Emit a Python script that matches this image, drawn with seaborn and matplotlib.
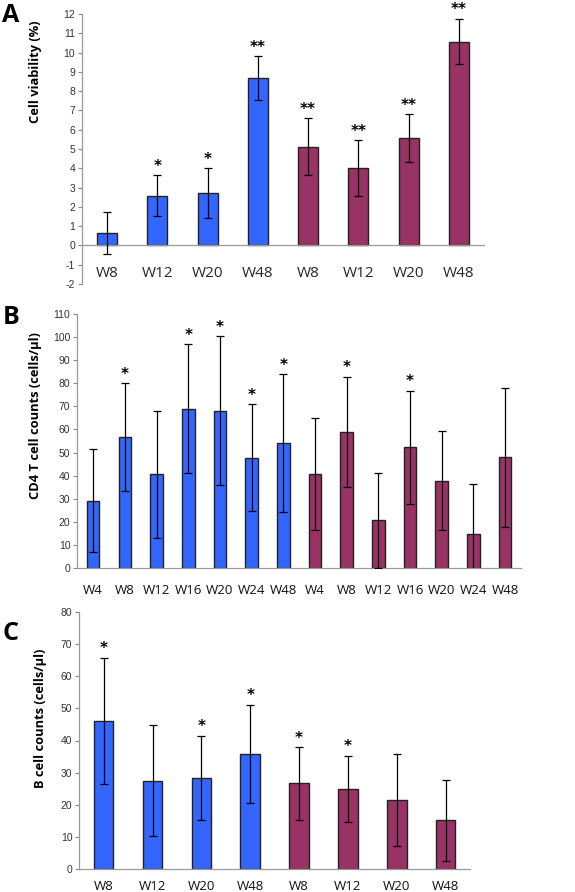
import matplotlib
matplotlib.use("Agg")
import matplotlib.pyplot as plt
import numpy as np
import pandas as pd
import seaborn as sns

# --- data ---
groups_a = ["blue"] * 4 + ["purple"] * 4
weeks_a = ["W8", "W12", "W20", "W48", "W8", "W12", "W20", "W48"]
viab_mean = [0.65, 2.58, 2.71, 8.68, 5.12, 4.01, 5.55, 10.57]
viab_err = [1.1, 1.07, 1.3, 1.13, 1.47, 1.45, 1.24, 1.18]
viab_star = ["", "*", "*", "**", "**", "**", "**", "**"]

groups_b = ["blue"] * 7 + ["purple"] * 7
weeks_b = ["W4", "W8", "W12", "W16", "W20", "W24", "W48",
           "W4", "W8", "W12", "W16", "W20", "W24", "W48"]
cd4_mean = [29.0, 56.7, 40.5, 69.0, 68.2, 47.8, 54.1,
            40.5, 58.9, 20.5, 52.2, 37.8, 14.6, 47.9]
cd4_err = [22.4, 23.5, 27.4, 28.0, 32.3, 23.1, 30.0,
           24.3, 24.0, 20.6, 24.6, 21.4, 21.9, 30.2]
cd4_star = ["", "*", "", "*", "*", "*", "*",
            "", "*", "", "*", "", "", ""]

groups_c = ["blue"] * 4 + ["purple"] * 4
weeks_c = ["W8", "W12", "W20", "W48", "W8", "W12", "W20", "W48"]
bcell_mean = [46.1, 27.5, 28.4, 35.9, 26.6, 24.9, 21.5, 15.1]
bcell_err = [19.7, 17.2, 13.1, 15.3, 11.3, 10.3, 14.4, 12.6]
bcell_star = ["*", "", "*", "*", "*", "*", "", ""]

palette = {"blue": "#3366FF", "purple": "#993366"}

sns.set_theme(style="white")
plt.rcParams["font.family"] = ["Open Sans", "DejaVu Sans"]
plt.rcParams["text.color"] = "black"

fig = plt.figure(figsize=(5.75, 8.92), dpi=100)

W, H = 575.0, 892.0


def make_ax(left, right, top, bottom):
    return fig.add_axes([left / W, 1 - bottom / H, (right - left) / W, (bottom - top) / H])


def panel(ax, weeks, groups, mean, err, stars, ylim, yticks, ylabel, label_xy, xpad, zero_spine=False):
    keys = [f"{w}_{i}" for i, w in enumerate(weeks)]
    df = pd.DataFrame({"key": keys, "value": mean, "group": groups})
    sns.barplot(data=df, x="key", y="value", hue="group", order=keys,
                palette=palette, dodge=False, width=0.4, saturation=1,
                edgecolor="#222222", linewidth=1.0, legend=False, ax=ax)
    pos = np.arange(len(keys))
    ax.errorbar(pos, mean, yerr=err, fmt="none", ecolor="black",
                elinewidth=0.9, capsize=3, capthick=0.9, zorder=5)
    for x, m, e, s in zip(pos, mean, err, stars):
        if s:
            ax.annotate(s, (x, m + e), xytext=(0, 1), textcoords="offset points",
                        ha="center", va="bottom", fontsize=11, fontweight="bold",
                        family=["DejaVu Sans"], color="black")
    ax.set_xlim(-0.5, len(keys) - 0.5)
    ax.set_ylim(*ylim)
    ax.set_yticks(yticks)
    ax.set_yticklabels([str(t) for t in yticks], family=["Liberation Sans"], fontsize=7.5, color="#333333")
    ax.set_xticks(pos)
    ax.set_xticklabels(weeks, fontsize=9.5, color="#111111")
    ax.tick_params(axis="x", length=0, pad=xpad)
    ax.tick_params(axis="y", length=3, width=0.8, color="#888888", pad=2, left=True)
    for sp in ["top", "right"]:
        ax.spines[sp].set_visible(False)
    ax.spines["left"].set_color("#999999")
    ax.spines["bottom"].set_color("#999999")
    ax.spines["left"].set_linewidth(0.9)
    ax.spines["bottom"].set_linewidth(0.9)
    if zero_spine:
        ax.spines["bottom"].set_position(("data", 0))
    ax.set_xlabel("")
    ax.set_ylabel(ylabel, fontsize=9.3, fontweight="bold", color="black")
    ax.yaxis.set_label_coords(*label_xy)


ax_a = make_ax(82, 484, 14, 284)
panel(ax_a, weeks_a, groups_a, viab_mean, viab_err, viab_star,
      (-2, 12), list(range(-2, 13)), "Cell viability (%)", (-0.1, 0.785), 15, zero_spine=True)

ax_b = make_ax(77.3, 521, 314.3, 567.7)
panel(ax_b, weeks_b, groups_b, cd4_mean, cd4_err, cd4_star,
      (0, 110), list(range(0, 111, 10)), "CD4 T cell counts (cells/\u00b5l)", (-0.08, 0.6), 12)

ax_c = make_ax(79.3, 470, 612.3, 868.7)
panel(ax_c, weeks_c, groups_c, bcell_mean, bcell_err, bcell_star,
      (0, 80), list(range(0, 81, 10)), "B cell counts (cells/\u00b5l)", (-0.083, 0.588), 8)

for letter, (x, y) in zip(["A", "B", "C"], [(11, 15), (11, 318), (11, 633)]):
    fig.text(x / W, 1 - y / H, letter, fontsize=18, fontweight="bold",
             ha="center", va="center", color="black")

fig.savefig("out.png", dpi=100)
